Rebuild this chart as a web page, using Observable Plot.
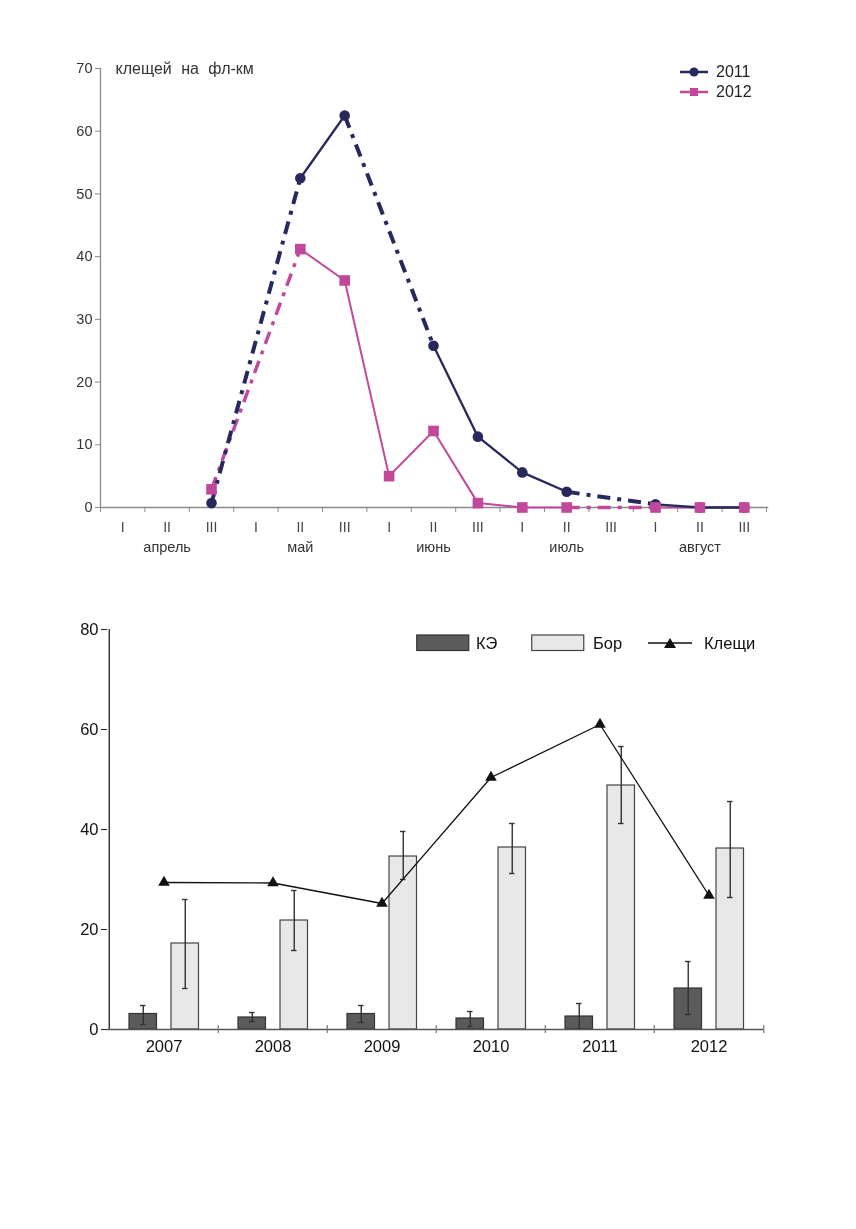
<!DOCTYPE html>
<html>
<head>
<meta charset="utf-8">
<script src="https://cdn.jsdelivr.net/npm/d3@7"></script>
<script src="https://cdn.jsdelivr.net/npm/@observablehq/plot@0.6"></script>
<style>
  html, body { margin: 0; padding: 0; background: #fff; }
  #page { position: relative; width: 856px; height: 1229px; background: #fff; font-family: "Liberation Sans", Arial, sans-serif; overflow: hidden; }
  #topchart, #bottomchart { position: absolute; left: 0; will-change: transform; }
  #topchart { top: 0; }
  #bottomchart { top: 600px; }
  #topchart .ttl, #topchart .ttl text { word-spacing: 5px; }
  .leg { position: absolute; display: flex; align-items: center; font-size: 16px; color: #222; }
  .leg2 { position: absolute; display: flex; align-items: center; font-size: 16.5px; color: #111; }
</style>
</head>
<body>
<div id="page">
  <div id="topchart"></div>
  <div id="bottomchart"></div>
  <div class="leg" style="left:680px; top:62px; height:20px;">
    <svg width="30" height="20"><line x1="0" y1="10" x2="28" y2="10" stroke="#27295c" stroke-width="2.5"/><circle cx="14" cy="10" r="4.5" fill="#27295c"/></svg>
    <span style="margin-left:6px">2011</span>
  </div>
  <div class="leg" style="left:680px; top:82px; height:20px;">
    <svg width="30" height="20"><line x1="0" y1="10" x2="28" y2="10" stroke="#c2489c" stroke-width="2.5"/><rect x="10" y="6" width="8" height="8" fill="#c2489c"/></svg>
    <span style="margin-left:6px">2012</span>
  </div>
  <div class="leg2" style="left:416px; top:633px; height:20px;">
    <svg width="56" height="20"><rect x="0.75" y="2" width="52" height="15.5" fill="#5b5b5b" stroke="#333" stroke-width="1.2"/></svg>
    <span style="margin-left:4px">КЭ</span>
  </div>
  <div class="leg2" style="left:531px; top:633px; height:20px;">
    <svg width="56" height="20"><rect x="0.75" y="2" width="52" height="15.5" fill="#e8e8e8" stroke="#444" stroke-width="1.2"/></svg>
    <span style="margin-left:6px">Бор</span>
  </div>
  <div class="leg2" style="left:648px; top:633px; height:20px;">
    <svg width="48" height="20"><line x1="0" y1="10" x2="44" y2="10" stroke="#111" stroke-width="1.3"/><path d="M22,5 L28,15 L16,15 Z" fill="#111"/></svg>
    <span style="margin-left:8px">Клещи</span>
  </div>
</div>
<script>
// ---------- Top chart data ----------
const decadeLabels = ["I", "II", "III"];
const monthLabels = ["апрель", "май", "июнь", "июль", "август"];
const seriesNames = ["2011", "2012"];
const values2011 = [null, null, 0.7, null, 52.5, 62.5, null, 25.8, 11.3, 5.6, 2.5, null, 0.5, 0, 0];
const values2012 = [null, null, 2.9, null, 41.2, 36.2, 5.0, 12.2, 0.7, 0, 0, null, 0, 0, 0];
const yTicksTop = [0, 10, 20, 30, 40, 50, 60, 70];

// ---------- Bottom chart data ----------
const years = ["2007", "2008", "2009", "2010", "2011", "2012"];
const keValues = [3.1, 2.4, 3.1, 2.2, 2.6, 8.2];
const keLow = [1.0, 1.6, 1.4, 0.6, 0.1, 3.0];
const keHigh = [4.8, 3.4, 4.8, 3.6, 5.2, 13.6];
const borValues = [17.2, 21.8, 34.6, 36.4, 48.8, 36.2];
const borLow = [8.2, 15.8, 30.0, 31.2, 41.2, 26.4];
const borHigh = [26.0, 27.8, 39.6, 41.2, 56.6, 45.6];
const kleshValues = [29.4, 29.3, 25.2, 50.4, 61.0, 26.8];
const yTicksBottom = [0, 20, 40, 60, 80];

const NAVY = "#27295c", PINK = "#c2489c";

const rows = (vals) => vals.map((v, i) => ({ i, x: i + 0.5, v }));
const r2011 = rows(values2011), r2012 = rows(values2012);
const gaps = (vals) => {
  const out = [];
  let last = null;
  vals.forEach((v, i) => {
    if (v != null) {
      if (last != null && i - last > 1) out.push({ x1: last + 0.5, y1: vals[last], x2: i + 0.5, y2: v });
      last = i;
    }
  });
  return out;
};
const centers = d3.range(15).map(i => i + 0.5);
const monthCenters = d3.range(5).map(m => m * 3 + 1.5);
const FONT = "Liberation Sans, Arial, sans-serif";
const dash = "13,7,4,7";

const topPlot = Plot.plot({
  width: 856, height: 580,
  marginLeft: 100, marginRight: 90, marginTop: 68, marginBottom: 73,
  style: { fontFamily: FONT, background: "transparent" },
  x: { domain: [0, 15] },
  y: { domain: [0, 70] },
  marks: [
    Plot.ruleX([0], { y1: 0, y2: 70, stroke: "#8a8a8a", strokeWidth: 1.3 }),
    Plot.ruleY([0], { x1: 0, x2: 15.05, stroke: "#8a8a8a", strokeWidth: 1.3 }),
    Plot.axisY({ ticks: yTicksTop, tickSize: 5, tickPadding: 3, stroke: "#8a8a8a", fill: "#333", fontSize: 14.5, tickFormat: d => d }),
    Plot.axisX({ ticks: d3.range(16), tickSize: 5, stroke: "#8a8a8a", tickFormat: () => "" }),
    Plot.axisX({ ticks: centers, tickSize: 0, tickPadding: 15, fontSize: 14, fill: "#444", tickFormat: d => decadeLabels[Math.floor(d) % 3] }),
    Plot.axisX({ ticks: monthCenters, tickSize: 0, tickPadding: 34, fontSize: 14.5, fill: "#333", tickFormat: d => monthLabels[Math.round((d - 1.5) / 3)] }),
    Plot.text(["клещей на фл-км"], { frameAnchor: "top-left", dx: 15, dy: 0, lineAnchor: "middle", textAnchor: "start", fontSize: 16, fill: "#333", className: "ttl" }),
    Plot.link(gaps(values2012), { x1: "x1", y1: "y1", x2: "x2", y2: "y2", stroke: PINK, strokeWidth: 3.5, strokeDasharray: dash, strokeLinecap: "butt" }),
    Plot.line(r2012, { x: "x", y: "v", stroke: PINK, strokeWidth: 2 }),
    Plot.link(gaps(values2011), { x1: "x1", y1: "y1", x2: "x2", y2: "y2", stroke: NAVY, strokeWidth: 4, strokeDasharray: dash, strokeLinecap: "butt" }),
    Plot.line(r2011, { x: "x", y: "v", stroke: NAVY, strokeWidth: 2.3 }),
    Plot.dot(r2011.filter(d => d.v != null), { x: "x", y: "v", r: 5.3, fill: NAVY, symbol: "circle" }),
    Plot.dot(r2012.filter(d => d.v != null), { x: "x", y: "v", r: 6, fill: PINK, symbol: "square" })
  ]
});
document.getElementById("topchart").appendChild(topPlot);

// ---------- Bottom chart ----------
const bRows = years.map((y, i) => ({
  year: y, ke: keValues[i], keLo: keLow[i], keHi: keHigh[i],
  bor: borValues[i], borLo: borLow[i], borHi: borHigh[i], kl: kleshValues[i]
}));
const W = 856, ML = 107, MR = 92;
const bw = (W - ML - MR) / years.length;

const bottomPlot = Plot.plot({
  width: W, height: 480,
  marginLeft: ML, marginRight: MR, marginTop: 29, marginBottom: 51,
  style: { fontFamily: FONT, background: "transparent" },
  x: { domain: years, padding: 0, label: null },
  y: { domain: [0, 80], label: null },
  marks: [
    Plot.barY(bRows, { x: "year", y: "ke", fill: "#5b5b5b", stroke: "#333", strokeWidth: 1.2, insetLeft: 20, insetRight: 61.5 }),
    Plot.barY(bRows, { x: "year", y: "bor", fill: "#e8e8e8", stroke: "#444", strokeWidth: 1.2, insetLeft: 62, insetRight: 19.5 }),
    Plot.ruleX(bRows, { x: "year", y1: "keLo", y2: "keHi", dx: 34 - bw / 2, stroke: "#333", strokeWidth: 1.4 }),
    Plot.tickY(bRows, { x: "year", y: "keLo", stroke: "#333", strokeWidth: 1.4, insetLeft: 31, insetRight: bw - 37 }),
    Plot.tickY(bRows, { x: "year", y: "keHi", stroke: "#333", strokeWidth: 1.4, insetLeft: 31, insetRight: bw - 37 }),
    Plot.ruleX(bRows, { x: "year", y1: "borLo", y2: "borHi", dx: 76 - bw / 2, stroke: "#333", strokeWidth: 1.4 }),
    Plot.tickY(bRows, { x: "year", y: "borLo", stroke: "#333", strokeWidth: 1.4, insetLeft: 73, insetRight: bw - 79 }),
    Plot.tickY(bRows, { x: "year", y: "borHi", stroke: "#333", strokeWidth: 1.4, insetLeft: 73, insetRight: bw - 79 }),
    Plot.ruleY([0], { stroke: "#555", strokeWidth: 1.3 }),
    Plot.ruleX([years[0]], { y1: 0, y2: 80, dx: -bw / 2, stroke: "#222", strokeWidth: 1.3 }),
    Plot.ruleX(years.slice(1), { x: d => d, y1: -0.8, y2: 0.8, dx: -bw / 2, stroke: "#777", strokeWidth: 1.2 }),
    Plot.ruleX([years[years.length - 1]], { y1: -0.8, y2: 0.8, dx: bw / 2, stroke: "#777", strokeWidth: 1.2 }),
    Plot.axisY({ ticks: yTicksBottom, tickSize: 6, tickPadding: 3, stroke: "#222", fill: "#111", fontSize: 16.5, tickFormat: d => d, label: null }),
    Plot.axisX({ tickSize: 0, tickPadding: 11, fontSize: 16.5, fill: "#111", label: null }),
    Plot.line(bRows, { x: "year", y: "kl", stroke: "#111", strokeWidth: 1.3 }),
    Plot.dot(bRows, { x: "year", y: "kl", symbol: "triangle", r: 4.3, fill: "#111" })
  ]
});
document.getElementById("bottomchart").appendChild(bottomPlot);
</script>
</body>
</html>
